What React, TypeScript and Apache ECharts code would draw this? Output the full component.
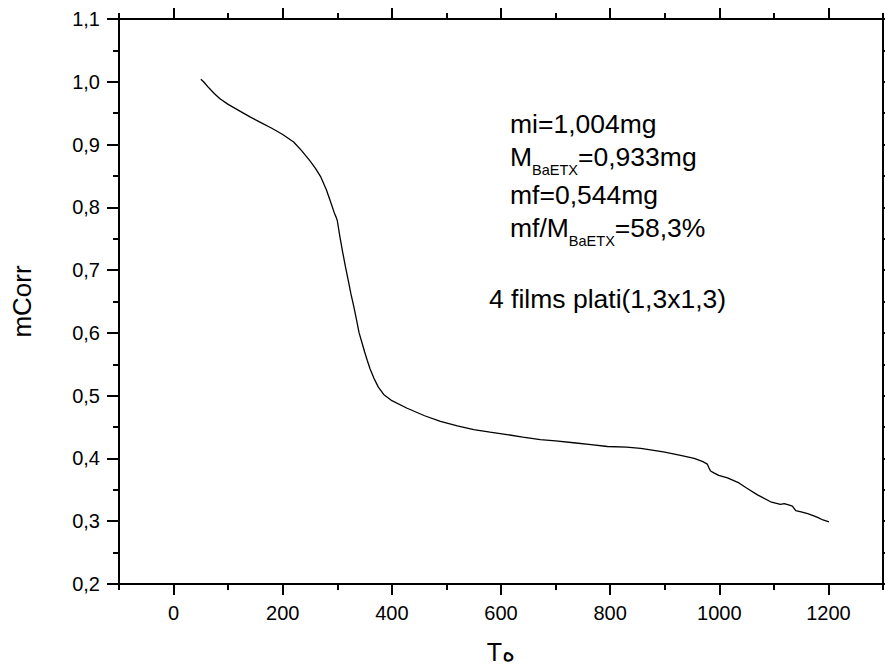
import React, { useEffect, useRef } from 'react';
import * as echarts from 'echarts';

const FONT = '"Liberation Sans", Arial, Helvetica, sans-serif';

// Temperature (x) and corrected mass (y)
const tempC = [
  50, 55, 65, 75, 85, 100, 120, 140, 160, 180, 200, 220, 235, 250, 260, 270, 280, 288, 295, 298,
  300, 305, 310, 315, 320, 325, 330, 335, 340, 345, 350, 355, 360, 367, 375, 385, 400, 428, 460,
  489, 520, 550, 580, 611, 640, 672, 700, 733, 765, 795, 830, 856, 880, 900, 929, 954, 970, 978,
  981, 984, 990, 999, 1015, 1036, 1050, 1070, 1094, 1112, 1119, 1127, 1134, 1140, 1150, 1162,
  1172, 1180, 1190, 1201,
];
const mCorr = [
  1.004, 1.0, 0.99, 0.981, 0.973, 0.964, 0.954, 0.944, 0.935, 0.926, 0.916, 0.904, 0.89, 0.874,
  0.862, 0.848, 0.828, 0.808, 0.79, 0.784, 0.779, 0.752, 0.728, 0.705, 0.684, 0.662, 0.643, 0.622,
  0.6, 0.585, 0.57, 0.556, 0.543, 0.528, 0.514, 0.502, 0.492, 0.48, 0.468, 0.459, 0.452, 0.446,
  0.442, 0.438, 0.434, 0.43, 0.428, 0.425, 0.422, 0.419, 0.418, 0.416, 0.413, 0.41, 0.405, 0.4,
  0.395, 0.391, 0.385, 0.38, 0.377, 0.373, 0.369, 0.361, 0.353, 0.342, 0.331, 0.327, 0.328, 0.326,
  0.324, 0.317, 0.315, 0.312, 0.309, 0.306, 0.302, 0.299,
];

const xMajorTicks = [0, 200, 400, 600, 800, 1000, 1200];
const xMinorTicks = [-100, 100, 300, 500, 700, 900, 1100, 1300];
const xName = 'Tه';
const yName = 'mCorr';

type Seg = { t: string; sub?: boolean };
const annotationLines: Seg[][] = [
  [{ t: 'mi=1,004mg' }],
  [{ t: 'M' }, { t: 'BaETX', sub: true }, { t: '=0,933mg' }],
  [{ t: 'mf=0,544mg' }],
  [{ t: 'mf/M' }, { t: 'BaETX', sub: true }, { t: '=58,3%' }],
  [{ t: '4 films plati(1,3x1,3)' }],
];

export default function App() {
  const ref = useRef<HTMLDivElement>(null);
  useEffect(() => {
    if (!ref.current) return;
    const chart = echarts.init(ref.current, undefined, { renderer: 'svg' });

    const MAIN = 26.5;
    const SUB = 14.5;
    const lineX = [510, 510, 510, 510, 489];
    const baseY = [133, 166, 204, 237, 308];
    const subDrop = 9;
    const canvas = document.createElement('canvas');
    const ctx = canvas.getContext('2d')!;
    const measure = (t: string, s: number) => {
      ctx.font = `${s}px ${FONT}`;
      return ctx.measureText(t).width;
    };
    const graphics: any[] = [];
    annotationLines.forEach((segs, i) => {
      let x = lineX[i];
      segs.forEach((sg) => {
        const size = sg.sub ? SUB : MAIN;
        const base = baseY[i] + (sg.sub ? subDrop : 0);
        graphics.push({
          type: 'text',
          x,
          y: base - 0.3465 * size,
          silent: true,
          style: {
            text: sg.t,
            font: `${size}px ${FONT}`,
            fill: '#000',
            align: 'left',
            verticalAlign: 'middle',
            textAlign: 'left',
            textVerticalAlign: 'middle',
            lineHeight: size,
          },
        });
        x += measure(sg.t, size);
      });
    });

    const axisLine = { show: true, onZero: false, lineStyle: { color: '#000', width: 2 } };
    const tickStyle = { color: '#000', width: 2 };
    const labelStyle = { color: '#000', fontSize: 20, fontFamily: FONT, margin: 19 };
    const MAJ = 11;
    const MIN = 6;

    const option: any = {
      animation: false,
      backgroundColor: '#fff',
      grid: { left: 119, right: 2, top: 19, bottom: 82, containLabel: false },
      xAxis: [
        {
          type: 'value', position: 'bottom', min: -100, max: 1300,
          axisLine,
          axisTick: { show: true, inside: false, customValues: xMajorTicks, length: MAJ, lineStyle: tickStyle },
          axisLabel: { ...labelStyle, customValues: xMajorTicks, formatter: (v: number) => String(v) },
          splitLine: { show: false },
          name: xName, nameLocation: 'middle', nameGap: 55,
          nameTextStyle: { color: '#000', fontSize: 25, fontFamily: FONT },
        },
        {
          type: 'value', position: 'bottom', min: -100, max: 1300,
          axisLine: { show: false, onZero: false },
          axisTick: { show: true, inside: false, customValues: xMinorTicks, length: MIN, lineStyle: tickStyle },
          axisLabel: { show: false },
          splitLine: { show: false },
        },
        {
          type: 'value', position: 'top', min: -100, max: 1300,
          axisLine,
          axisTick: { show: true, inside: false, customValues: xMajorTicks, length: MAJ, lineStyle: tickStyle },
          axisLabel: { show: false },
          splitLine: { show: false },
        },
        {
          type: 'value', position: 'top', min: -100, max: 1300,
          axisLine: { show: false, onZero: false },
          axisTick: { show: true, inside: false, customValues: xMinorTicks, length: MIN, lineStyle: tickStyle },
          axisLabel: { show: false },
          splitLine: { show: false },
        },
      ],
      yAxis: [
        {
          type: 'value', position: 'left', min: 0.2, max: 1.1, interval: 0.1,
          axisLine,
          axisTick: { show: true, inside: false, length: 12, lineStyle: tickStyle },
          minorTick: { show: true, splitNumber: 2, length: MIN, lineStyle: tickStyle },
          axisLabel: { ...labelStyle, inside: false, formatter: (v: number) => v.toFixed(1).replace('.', ',') },
          splitLine: { show: false },
          minorSplitLine: { show: false },
          name: yName, nameLocation: 'middle', nameGap: 84, nameRotate: 90,
          nameTextStyle: { color: '#000', fontSize: 26, fontFamily: FONT },
        },
        {
          type: 'value', position: 'right', min: 0.2, max: 1.1, interval: 0.1,
          axisLine,
          axisTick: { show: true, inside: false, length: 12, lineStyle: tickStyle },
          minorTick: { show: true, splitNumber: 2, length: MIN, lineStyle: tickStyle },
          axisLabel: { show: false },
          splitLine: { show: false },
          minorSplitLine: { show: false },
        },
      ],
      series: [
        {
          type: 'line',
          xAxisIndex: 0,
          yAxisIndex: 0,
          data: tempC.map((t, i) => [t, mCorr[i]]),
          showSymbol: false,
          symbol: 'none',
          lineStyle: { color: '#000', width: 1.3 },
          silent: true,
        },
      ],
      graphic: graphics,
    };
    chart.setOption(option);
    return () => chart.dispose();
  }, []);

  return (
    <div
      ref={ref}
      style={{ position: 'fixed', left: 0, top: 0, width: 885, height: 669, background: '#fff' }}
    />
  );
}
